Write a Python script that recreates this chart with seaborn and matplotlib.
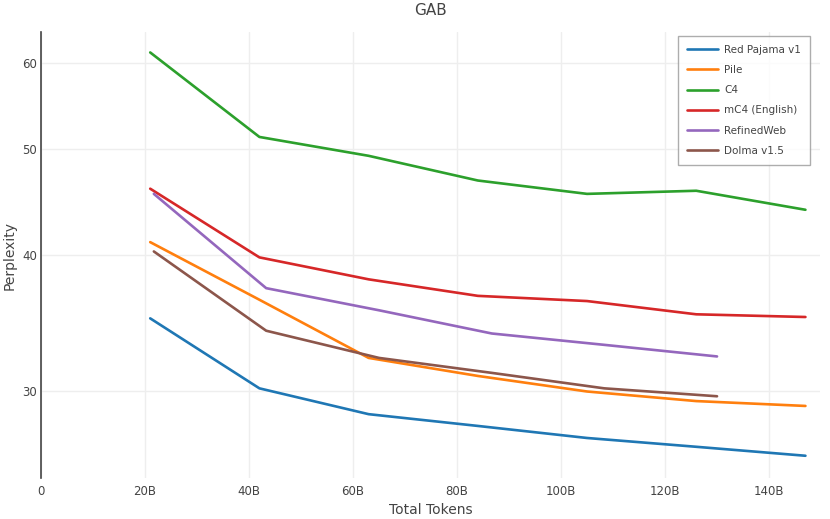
import numpy as np
import pandas as pd
import matplotlib
matplotlib.use("Agg")
import matplotlib.pyplot as plt
import seaborn as sns
from matplotlib.ticker import FixedLocator, FixedFormatter, NullLocator

# tokens in billions
tokens_a = [21, 42, 63, 84, 105, 126, 147]
tokens_b = [21.7, 43.3, 65, 86.7, 108.3, 130]

red_pajama = [35.0, 30.2, 28.6, 27.9, 27.2, 26.7, 26.2]
pile = [41.1, 36.4, 32.2, 31.0, 30.0, 29.4, 29.1]
c4 = [61.3, 51.3, 49.3, 46.8, 45.5, 45.8, 44.0]
mc4 = [46.0, 39.8, 38.0, 36.7, 36.3, 35.3, 35.1]
refinedweb = [45.5, 37.3, 35.6, 33.9, 33.1, 32.3]
dolma = [40.3, 34.1, 32.2, 31.2, 30.2, 29.7]

series_names = ["Red Pajama v1", "Pile", "C4", "mC4 (English)", "RefinedWeb", "Dolma v1.5"]
series_x = [tokens_a, tokens_a, tokens_a, tokens_a, tokens_b, tokens_b]
series_y = [red_pajama, pile, c4, mc4, refinedweb, dolma]
colors = ["#1f77b4", "#ff7f0e", "#2ca02c", "#d62728", "#9467bd", "#8c564b"]

y_ticks = [30, 40, 50, 60]
x_ticks = [0, 20, 40, 60, 80, 100, 120, 140]
x_labels = ["0", "20B", "40B", "60B", "80B", "100B", "120B", "140B"]

rows = []
for name, xs, ys in zip(series_names, series_x, series_y):
    for x, y in zip(xs, ys):
        rows.append({"Dataset": name, "Tokens": x, "Perplexity": y})
df = pd.DataFrame(rows)

sns.set_style("white")
plt.rcParams["font.family"] = ["DejaVu Sans"]

fig = plt.figure(figsize=(8.3, 5.19), dpi=100)
ax = fig.add_axes([41 / 830, 1 - 478 / 519, (820 - 41) / 830, (478 - 32) / 519])

sns.lineplot(
    data=df, x="Tokens", y="Perplexity", hue="Dataset",
    hue_order=series_names, palette=colors, sort=False,
    linewidth=1.9, ax=ax, estimator=None,
)

ax.set_yscale("log")
ax.set_xlim(0, 149.8)
ax.set_ylim(25.0, 64.0)

ax.yaxis.set_major_locator(FixedLocator(y_ticks))
ax.yaxis.set_major_formatter(FixedFormatter([str(t) for t in y_ticks]))
ax.yaxis.set_minor_locator(NullLocator())
ax.set_xticks(x_ticks)
ax.set_xticklabels(x_labels)

ax.grid(True, color="#eeeeee", linewidth=1)
ax.set_axisbelow(True)
for s in ["top", "right", "bottom"]:
    ax.spines[s].set_visible(False)
ax.spines["left"].set_color("#444444")
ax.spines["left"].set_linewidth(1.2)

ax.tick_params(axis="both", length=0, labelsize=8.5, colors="#444444")
ax.tick_params(axis="x", pad=5)
ax.tick_params(axis="y", pad=3)

# axis titles placed like the reference (centres at x~9px and y~510px)
ax.set_xlabel("Total Tokens", fontsize=10, color="#444444", va="center")
ax.set_ylabel("Perplexity", fontsize=10, color="#444444", va="center")
ax.xaxis.set_label_coords(0.5, (478 - 510) / 446)
ax.yaxis.set_label_coords((10 - 41) / 779, 0.5)
ax.set_title("GAB", fontsize=11, color="#444444", pad=12)

handles, labels = ax.get_legend_handles_labels()
leg = ax.legend(
    handles, labels, loc="upper right", bbox_to_anchor=(810 / 830, 1 - 36 / 519),
    bbox_transform=fig.transFigure, frameon=True, fancybox=False,
    fontsize=7.5, handlelength=3.0, borderpad=0.85, labelspacing=0.98,
    handletextpad=0.6, borderaxespad=0,
)
leg.get_frame().set_edgecolor("#999999")
leg.get_frame().set_linewidth(1)
for t in leg.get_texts():
    t.set_color("#444444")

fig.savefig("out.png", dpi=100)
